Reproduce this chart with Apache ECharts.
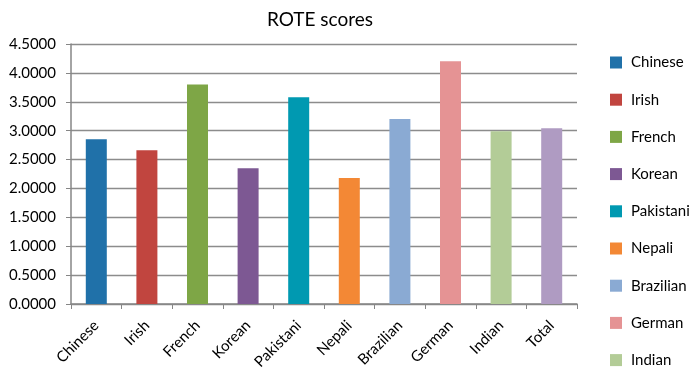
<!DOCTYPE html>
<html>
<head>
<meta charset="utf-8">
<script src="https://cdn.jsdelivr.net/npm/echarts@6/dist/echarts.min.js"></script>
<style>
  html, body { margin: 0; padding: 0; background: #fff; }
  #chart { width: 691px; height: 369px; }
</style>
</head>
<body>
<div id="chart"></div>
<script>
// categories and scores
var categories = ['Chinese', 'Irish', 'French', 'Korean', 'Pakistani', 'Nepali', 'Brazilian', 'German', 'Indian', 'Total'];
var scores = [2.85, 2.66, 3.80, 2.35, 3.58, 2.18, 3.20, 4.20, 2.99, 3.04];
var colors = ['#2071a9', '#c1453f', '#7ea646', '#7d5893', '#0099b1', '#f38835', '#8aaad3', '#e59394', '#b3cc97', '#af9bc2'];
// the legend in the original is cut off after Indian
var legendNames = categories.slice(0, 9);

var myChart = echarts.init(document.getElementById('chart'));

// one series per category, stacked so every bar stays centred on its tick
var series = categories.map(function (name, i) {
    var data = categories.map(function (c, j) { return j === i ? scores[i] : '-'; });
    return {
        name: name,
        type: 'bar',
        stack: 'all',
        barWidth: 21,
        data: data,
        itemStyle: { color: colors[i] }
    };
});

var option = {
    animation: false,
    title: {
        text: 'ROTE scores',
        left: 315,
        textAlign: 'center',
        top: 5,
        textStyle: { fontFamily: 'Lato', fontSize: 19, fontWeight: 'normal', color: '#000' }
    },
    legend: {
        data: legendNames,
        orient: 'vertical',
        left: 610,
        top: 55,
        padding: 0,
        height: 420,
        itemWidth: 12,
        itemHeight: 12,
        itemGap: 22.2,
        icon: 'rect',
        textStyle: { fontFamily: 'Lato', fontSize: 15, color: '#000', padding: [0, 0, 0, 4] }
    },
    grid: { left: 71, right: 114, top: 44, bottom: 65, outerBoundsMode: 'none' },
    xAxis: {
        type: 'category',
        data: categories,
        boundaryGap: true,
        axisLine: { lineStyle: { color: '#868686', width: 1.5 } },
        axisTick: { show: true, length: 5, lineStyle: { color: '#868686' } },
        axisLabel: {
            rotate: 45,
            margin: 19,
            interval: 0,
            fontFamily: 'Lato',
            fontSize: 15,
            color: '#000'
        }
    },
    yAxis: {
        type: 'value',
        min: 0,
        max: 4.5,
        interval: 0.5,
        axisLine: { show: true, lineStyle: { color: '#868686', width: 1.5 } },
        axisTick: { show: true, length: 5, lineStyle: { color: '#868686' } },
        splitLine: { lineStyle: { color: '#8c8c8c', width: 1.3 } },
        axisLabel: {
            margin: 15,
            fontFamily: 'Lato',
            fontSize: 15,
            color: '#000',
            formatter: function (v) { return v.toFixed(4); }
        }
    },
    series: series
};

myChart.setOption(option);
</script>
</body>
</html>
